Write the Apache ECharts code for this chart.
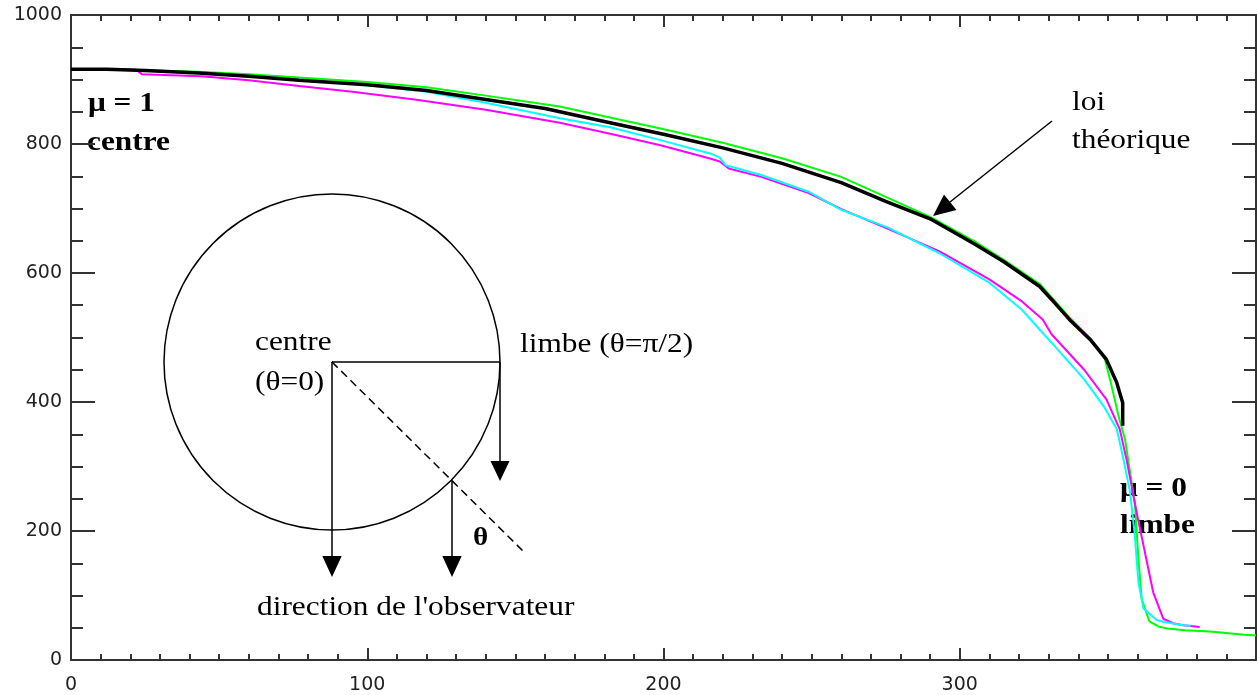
<!DOCTYPE html>
<html>
<head>
<meta charset="utf-8">
<script src="https://cdn.jsdelivr.net/npm/echarts@6/dist/echarts.min.js"></script>
<style>
  html, body { margin: 0; padding: 0; background: #fff; }
  #main { width: 1257px; height: 695px; }
</style>
</head>
<body>
<div id="main"></div>
<script>
'use strict';

// profils d'intensité [position, intensité]
var loiTheorique = [[0,916],[12,916],[25,914],[43,910],[60,905],[77,899],[100,892],[120,883],[140,869],[160,855],[180,835],[200,815],[220,794],[240,770],[260,740],[275,711],[290,684],[305,645],[315,617],[327,579],[331,559],[337,528],[344,497],[349.5,466],[353,430],[355,399],[355,363]];
var vert = [[12,916],[43,912],[60,908],[77,903],[100,896],[120,888],[140,875],[165,858],[180,843],[199,824],[220,802],[240,778],[260,749],[275,718],[290,687],[305,649],[315,620],[327,583],[337,531],[344,499],[349,466],[351,430],[353.5,380],[355.8,342],[357.5,291],[359.2,239],[360.3,157],[361.4,95],[364,60],[367,52],[370,49],[376,46],[384.5,44],[396,39],[400,38]];
var cyan = [[12,916],[43,911],[60,906],[77,900],[100,891],[120,881],[140,864],[165,840],[182,826],[199,806],[216,785],[219,779],[221,767],[233,752],[249,726],[260,698],[276,670],[293,631],[310,585],[321,543],[328,507],[331,492],[342,435],[348.5,394],[353,358],[355,317],[357.5,260],[359,198],[360.3,121],[362,80],[366.5,62],[369,59],[375.5,54],[378,53]];
var magenta = [[12,916],[22,915],[24,908],[44,905],[60,899],[77,890],[95,881],[116,869],[140,853],[165,833],[182,816],[199,798],[216,777],[219,773],[222,762],[233,749],[249,724],[260,699],[276,668],[293,634],[310,590],[321,556],[328,528],[331,505],[342,450],[349.5,404],[354,358],[356.3,311],[359.7,229],[362.5,167],[365.3,105],[368.7,64],[372,57],[375.5,54],[381,51]];

var xMin = 0, xMax = 400, xStep = 100;
var yMin = 0, yMax = 1000, yStep = 200;

var serif = "'Liberation Serif', 'Times New Roman', serif";
var axisColor = '#333';

function txt(s, x, baseline, size, bold) {
    return {
        type: 'text',
        x: x,
        y: baseline - size * 0.34,
        scaleX: 1.12,
        style: {
            text: s,
            font: (bold ? 'bold ' : '') + size + 'px ' + serif,
            fill: '#000',
            align: 'left',
            verticalAlign: 'middle'
        }
    };
}

function seg(x1, y1, x2, y2, dash) {
    return {
        type: 'line',
        shape: { x1: x1, y1: y1, x2: x2, y2: y2 },
        style: { stroke: '#000', lineWidth: 1.5, lineDash: dash || null }
    };
}

function head(pts) {
    return { type: 'polygon', shape: { points: pts }, style: { fill: '#000' } };
}

function xAxisDef(pos, labels) {
    return {
        type: 'value', position: pos, min: xMin, max: xMax, interval: xStep,
        axisLine: { show: true, onZero: false, lineStyle: { color: axisColor, width: 2 } },
        axisTick: { show: true, inside: true, length: 12, lineStyle: { color: axisColor, width: 2 } },
        minorTick: { show: true, splitNumber: 10, length: 6, lineStyle: { color: axisColor, width: 2 } },
        axisLabel: { show: labels, showMaxLabel: false, margin: 16, color: '#222', fontFamily: 'DejaVu Sans', fontSize: 19 },
        splitLine: { show: false }
    };
}

function yAxisDef(pos, labels) {
    return {
        type: 'value', position: pos, min: yMin, max: yMax, interval: yStep,
        axisLine: { show: true, onZero: false, lineStyle: { color: axisColor, width: 2 } },
        axisTick: { show: true, inside: true, length: 24, lineStyle: { color: axisColor, width: 2 } },
        minorTick: { show: true, splitNumber: 4, length: 12, lineStyle: { color: axisColor, width: 2 } },
        axisLabel: {
            show: labels, margin: 9, color: '#222', fontFamily: 'DejaVu Sans', fontSize: 19,
            formatter: function(v) { return String(v); }
        },
        splitLine: { show: false }
    };
}

function courbe(data, color, width, z) {
    return {
        type: 'line', data: data, showSymbol: false, animation: false, z: z,
        xAxisIndex: 0, yAxisIndex: 0,
        lineStyle: { color: color, width: width }
    };
}

var myChart = echarts.init(document.getElementById('main'));
var option = {
    backgroundColor: '#fff',
    animation: false,
    grid: { left: 71, top: 15, right: 1, bottom: 34, containLabel: false },
    xAxis: [xAxisDef('bottom', true), xAxisDef('top', false)],
    yAxis: [yAxisDef('left', true), yAxisDef('right', false)],
    series: [
        courbe(vert, '#00ff00', 2, 2),
        courbe(magenta, '#ff00ff', 2, 3),
        courbe(cyan, '#00ffff', 2, 4),
        courbe(loiTheorique, '#000000', 3.5, 5)
    ],
    graphic: [
        // textes du graphe
        txt('\u03bc = 1', 88, 113, 28, true),
        txt('centre', 87, 152, 28, true),
        txt('loi', 1072, 112, 28, false),
        txt('th\u00e9orique', 1072, 150, 28, false),
        txt('\u03bc = 0', 1120, 498, 28, true),
        txt('limbe', 1120, 535, 28, true),
        // flèche vers la loi théorique
        seg(1052, 121, 950, 202),
        head([[933, 216], [956.5, 210], [944, 194.5]]),
        // schéma du disque
        {
            type: 'circle',
            shape: { cx: 332, cy: 362, r: 168 },
            style: { fill: null, stroke: '#000', lineWidth: 1.5 }
        },
        seg(332, 362, 500, 362),
        seg(332, 362, 525, 553, [8, 5]),
        seg(332, 362, 332, 556),
        head([[332, 577], [322.3, 556], [341.7, 556]]),
        seg(452, 480, 452, 556),
        head([[452, 577], [442.3, 556], [461.7, 556]]),
        seg(500, 362, 500, 461),
        head([[500, 481], [490.5, 461], [509.5, 461]]),
        txt('centre', 255, 352, 28, false),
        txt('(\u03b8=0)', 255, 392, 28, false),
        txt('limbe (\u03b8=\u03c0/2)', 520, 354, 28, false),
        txt('\u03b8', 473, 547, 26, true),
        txt("direction de l'observateur", 257, 617, 28, false)
    ]
};
myChart.setOption(option);
</script>
</body>
</html>
